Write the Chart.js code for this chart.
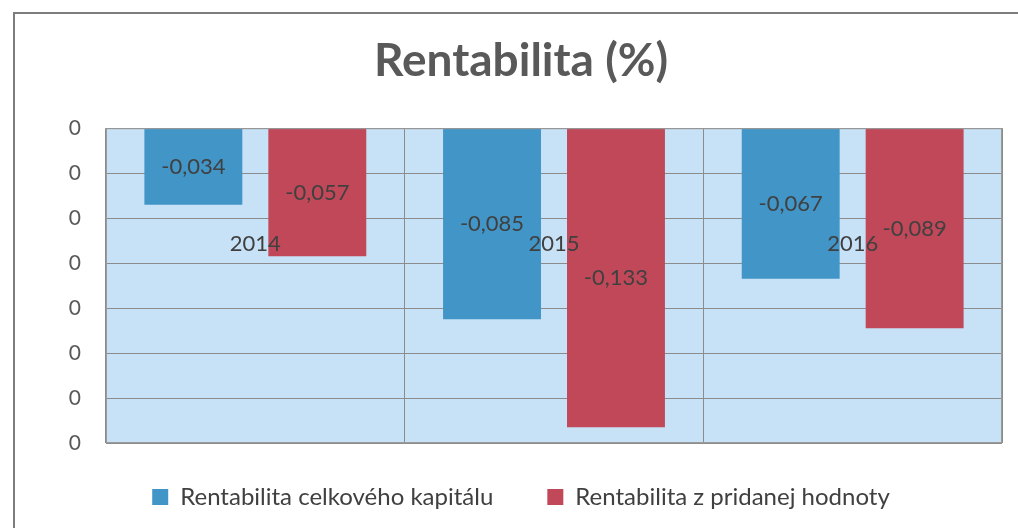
<!DOCTYPE html>
<html>
<head>
<meta charset="utf-8">
<script src="https://cdn.jsdelivr.net/npm/chart.js@4/dist/chart.umd.min.js"></script>
<style>
  html, body { margin: 0; padding: 0; background: #fff; }
  #wrap { position: relative; width: 1018px; height: 528px; }
  #frame { position: absolute; left: 13px; top: 12px; right: 0; bottom: 0;
           border-top: 2px solid #7d7d7d; border-left: 2px solid #7d7d7d; pointer-events: none; }
</style>
</head>
<body>
<div id="wrap">
  <canvas id="rentChart" width="1018" height="528"></canvas>
  <div id="frame"></div>
</div>
<script>
// data
var years = ['2014', '2015', '2016'];
var celkovyKapital = [-0.034, -0.085, -0.067];
var pridanaHodnota = [-0.057, -0.133, -0.089];
var yTicks = [0, -0.02, -0.04, -0.06, -0.08, -0.1, -0.12, -0.14];

var cBlue = '#4295c7';
var cRed = '#c04859';
var cText = '#404040';
var cAxis = '#595959';

// light blue plot background + thin border
var plotBg = {
    id: 'plotBg',
    beforeDraw: function (chart) {
        var a = chart.chartArea;
        var ctx = chart.ctx;
        ctx.save();
        ctx.fillStyle = '#c7e2f6';
        ctx.fillRect(a.left, a.top, a.right - a.left, a.bottom - a.top);
        ctx.restore();
    },
    afterDraw: function (chart) {
        var a = chart.chartArea;
        var ctx = chart.ctx;
        ctx.save();
        ctx.strokeStyle = '#9a9a9a';
        ctx.lineWidth = 1;
        ctx.strokeRect(a.left + 0.5, a.top + 0.5, a.right - a.left - 1, a.bottom - a.top - 1);
        ctx.restore();
    }
};

// value labels in the middle of each bar
var barValues = {
    id: 'barValues',
    afterDatasetsDraw: function (chart) {
        var ctx = chart.ctx;
        ctx.save();
        ctx.font = '22px Lato';
        ctx.fillStyle = cText;
        ctx.textAlign = 'center';
        ctx.textBaseline = 'middle';
        chart.data.datasets.forEach(function (ds, i) {
            chart.getDatasetMeta(i).data.forEach(function (bar, j) {
                var txt = ds.data[j].toFixed(3).replace('.', ',');
                ctx.fillText(txt, bar.x, (bar.y + bar.base) / 2);
            });
        });
        ctx.restore();
    }
};

var ctx = document.getElementById('rentChart').getContext('2d');
var chartObj = new Chart(ctx, {
    type: 'bar',
    data: {
        labels: years,
        datasets: [
            {
                label: 'Rentabilita celkového kapitálu\u2002',
                data: celkovyKapital,
                backgroundColor: cBlue,
                categoryPercentage: 0.83,
                barPercentage: 0.79
            },
            {
                label: 'Rentabilita z pridanej hodnoty',
                data: pridanaHodnota,
                backgroundColor: cRed,
                categoryPercentage: 0.83,
                barPercentage: 0.79
            }
        ]
    },
    options: {
        responsive: false,
        animation: false,
        layout: { padding: { top: 0, left: 40, right: 16, bottom: 9 } },
        scales: {
            x: {
                position: { y: -0.0455 },
                border: { display: false },
                grid: { color: '#8c8c8c', drawTicks: false, offset: true },
                ticks: { z: 1, color: cText, padding: 0, font: { size: 22, family: 'Lato' } }
            },
            y: {
                min: -0.14,
                max: 0,
                afterBuildTicks: function (s) {
                    s.ticks = yTicks.map(function (v) { return { value: v }; });
                },
                afterFit: function (s) { s.width = 66; },
                border: { display: false },
                grid: { color: '#8c8c8c', drawTicks: false },
                ticks: {
                    color: cAxis,
                    padding: 25,
                    font: { size: 21, family: 'Lato' },
                    callback: function (v) { return String(Math.round(v)); }
                }
            }
        },
        plugins: {
            title: {
                display: true,
                text: 'Rentabilita (%)',
                color: cAxis,
                font: { size: 46, weight: 'bold', family: 'Lato' },
                padding: { top: 34, bottom: 39 }
            },
            legend: {
                position: 'bottom',
                labels: {
                    color: cText,
                    boxWidth: 16,
                    boxHeight: 16,
                    padding: 42,
                    font: { size: 24, family: 'Lato' }
                }
            },
            tooltip: { enabled: false }
        }
    },
    plugins: [plotBg, barValues]
});
</script>
</body>
</html>
